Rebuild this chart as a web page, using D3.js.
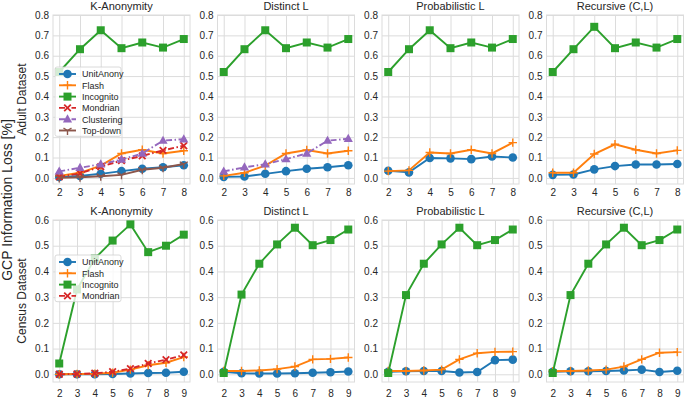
<!DOCTYPE html>
<html>
<head>
<meta charset="utf-8">
<script src="https://cdn.jsdelivr.net/npm/d3@7"></script>
<style>
  body { margin: 0; background: #fff; }
  text { font-family: "Liberation Sans", Arial, sans-serif; fill: #262626; }
</style>
</head>
<body>
<svg id="chart" width="685" height="399"></svg>
<script>
// ---- data ----
const adultK = [2, 3, 4, 5, 6, 7, 8];
const censusK = [2, 3, 4, 5, 6, 7, 8, 9];
const panelTitles = ["K-Anonymity", "Distinct L", "Probabilistic L", "Recursive (C,L)"];
const adultTicks = [0, 0.1, 0.2, 0.3, 0.4, 0.5, 0.6, 0.7, 0.8];
const censusTicks = [0, 0.1, 0.2, 0.3, 0.4, 0.5, 0.6];

// Adult dataset
const adultKAnonUnit   = [0.005, 0.010, 0.020, 0.033, 0.045, 0.052, 0.062];
const adultKAnonFlash  = [0.010, 0.025, 0.060, 0.120, 0.138, 0.120, 0.133];
const adultKAnonIncog  = [0.520, 0.632, 0.725, 0.637, 0.665, 0.640, 0.682];
const adultKAnonMondr  = [0.005, 0.022, 0.055, 0.085, 0.108, 0.135, 0.158];
const adultKAnonClust  = [0.032, 0.050, 0.067, 0.090, 0.120, 0.183, 0.190];
const adultKAnonTopDn  = [0.000, 0.003, 0.008, 0.015, 0.040, 0.050, 0.068];

const adultDistUnit    = [0.005, 0.007, 0.020, 0.033, 0.045, 0.052, 0.062];
const adultDistFlash   = [0.010, 0.025, 0.060, 0.120, 0.137, 0.120, 0.133];
const adultDistIncog   = [0.520, 0.632, 0.725, 0.637, 0.665, 0.640, 0.682];
const adultDistClust   = [0.032, 0.052, 0.067, 0.092, 0.120, 0.183, 0.192];

const adultProbUnit    = [0.035, 0.027, 0.098, 0.096, 0.092, 0.105, 0.100];
const adultProbFlash   = [0.033, 0.037, 0.125, 0.120, 0.138, 0.120, 0.173];
const adultProbIncog   = [0.520, 0.632, 0.725, 0.637, 0.665, 0.640, 0.682];

const adultRecUnit     = [0.015, 0.017, 0.042, 0.058, 0.066, 0.066, 0.068];
const adultRecFlash    = [0.025, 0.025, 0.117, 0.165, 0.138, 0.120, 0.135];
const adultRecIncog    = [0.520, 0.632, 0.742, 0.637, 0.665, 0.640, 0.682];

// Census dataset
const censusKAnonUnit  = [0.000, 0.000, 0.000, 0.001, 0.003, 0.005, 0.006, 0.010];
const censusKAnonFlash = [0.000, 0.001, 0.002, 0.006, 0.018, 0.035, 0.045, 0.067];
const censusKAnonIncog = [0.042, 0.330, 0.450, 0.520, 0.583, 0.475, 0.500, 0.543];
const censusKAnonMondr = [0.000, 0.001, 0.004, 0.010, 0.022, 0.042, 0.057, 0.075];

const censusDistUnit   = [0.010, 0.004, 0.003, 0.003, 0.004, 0.006, 0.008, 0.011];
const censusDistFlash  = [0.013, 0.013, 0.015, 0.020, 0.030, 0.058, 0.060, 0.065];
const censusDistIncog  = [0.005, 0.310, 0.430, 0.505, 0.570, 0.502, 0.522, 0.563];

const censusProbUnit   = [0.010, 0.012, 0.013, 0.013, 0.007, 0.009, 0.055, 0.057];
const censusProbFlash  = [0.013, 0.013, 0.015, 0.018, 0.058, 0.082, 0.087, 0.088];
const censusProbIncog  = [0.005, 0.308, 0.430, 0.505, 0.570, 0.502, 0.522, 0.563];

const censusRecUnit    = [0.010, 0.012, 0.012, 0.013, 0.015, 0.018, 0.009, 0.014];
const censusRecFlash   = [0.012, 0.013, 0.015, 0.018, 0.030, 0.058, 0.084, 0.086];
const censusRecIncog   = [0.005, 0.308, 0.430, 0.505, 0.570, 0.502, 0.522, 0.563];

// ---- styles per algorithm ----
const styles = {
  "UnitAnony":  { color: "#1f77b4", marker: "circle",  dash: null },
  "Flash":      { color: "#ff7f0e", marker: "plus",    dash: null },
  "Incognito":  { color: "#2ca02c", marker: "square",  dash: null },
  "Mondrian":   { color: "#d62728", marker: "x",       dash: "6,2.5,1.5,2.5" },
  "Clustering": { color: "#9467bd", marker: "triangle", dash: "6,2.5,1.5,2.5" },
  "Top-down":   { color: "#8c564b", marker: "tridown", dash: null }
};

const rows = [
  {
    label: "Adult Dataset", xs: adultK, ticks: adultTicks, top: 15, yDomain: [-0.03, 0.8], xDomain: [1.7, 8.3],
    panels: [
      [["UnitAnony", adultKAnonUnit], ["Flash", adultKAnonFlash], ["Incognito", adultKAnonIncog],
       ["Mondrian", adultKAnonMondr], ["Clustering", adultKAnonClust], ["Top-down", adultKAnonTopDn]],
      [["UnitAnony", adultDistUnit], ["Flash", adultDistFlash], ["Incognito", adultDistIncog], ["Clustering", adultDistClust]],
      [["UnitAnony", adultProbUnit], ["Flash", adultProbFlash], ["Incognito", adultProbIncog]],
      [["UnitAnony", adultRecUnit], ["Flash", adultRecFlash], ["Incognito", adultRecIncog]]
    ]
  },
  {
    label: "Census Dataset", xs: censusK, ticks: censusTicks, top: 220, yDomain: [-0.03, 0.6], xDomain: [1.65, 9.35],
    panels: [
      [["UnitAnony", censusKAnonUnit], ["Flash", censusKAnonFlash], ["Incognito", censusKAnonIncog], ["Mondrian", censusKAnonMondr]],
      [["UnitAnony", censusDistUnit], ["Flash", censusDistFlash], ["Incognito", censusDistIncog]],
      [["UnitAnony", censusProbUnit], ["Flash", censusProbFlash], ["Incognito", censusProbIncog]],
      [["UnitAnony", censusRecUnit], ["Flash", censusRecFlash], ["Incognito", censusRecIncog]]
    ]
  }
];

var svg = d3.select("#chart");
var panelW = 137;
var gridColor = "#dcdcdc";

// draw one marker at (0,0) into g
function drawMarker(g, kind, color) {
  if (kind === "circle") {
    g.append("circle").attr("r", 4.3).attr("fill", color);
  } else if (kind === "square") {
    g.append("rect").attr("x", -4).attr("y", -4).attr("width", 8).attr("height", 8).attr("fill", color);
  } else if (kind === "triangle") {
    g.append("path").attr("d", "M0,-5L4.6,3.2L-4.6,3.2Z").attr("fill", color);
  } else if (kind === "plus") {
    g.append("path").attr("d", "M-4.2,0H4.2M0,-4.2V4.2").attr("stroke", color).attr("stroke-width", 1.4);
  } else if (kind === "x") {
    g.append("path").attr("d", "M-3.3,-3.3L3.3,3.3M-3.3,3.3L3.3,-3.3").attr("stroke", color).attr("stroke-width", 1.8);
  } else if (kind === "tridown") {
    g.append("path").attr("d", "M0,0V4.5M0,0L-4,-2.3M0,0L4,-2.3").attr("stroke", color).attr("stroke-width", 1.4);
  }
}

rows.forEach(function(row, ri) {
  var h = ri === 0 ? 169 : 162;

  row.panels.forEach(function(series, pi) {
    var left = 53 + pi * 164.5;
    var g = svg.append("g").attr("transform", `translate(${left},${row.top})`);

    var x = d3.scaleLinear().domain(row.xDomain).range([0, panelW]);
    var y = d3.scaleLinear().domain(row.yDomain).range([h, 0]);

    // grid
    g.append("g")
      .call(d3.axisLeft(y).tickValues(row.ticks).tickSize(-panelW).tickFormat(""))
      .call(a => a.select(".domain").remove())
      .selectAll("line").attr("stroke", gridColor).attr("stroke-width", 1);
    g.append("g")
      .attr("transform", `translate(0,${h})`)
      .call(d3.axisBottom(x).tickValues(row.xs).tickSize(-h).tickFormat(""))
      .call(a => a.select(".domain").remove())
      .selectAll("line").attr("stroke", gridColor).attr("stroke-width", 1);

    // frame
    g.append("rect").attr("width", panelW).attr("height", h)
      .attr("fill", "none").attr("stroke", gridColor).attr("stroke-width", 1);

    // tick labels
    var yAx = g.append("g")
      .call(d3.axisLeft(y).tickValues(row.ticks).tickSize(0).tickPadding(4).tickFormat(d3.format(".1f")));
    yAx.select(".domain").remove();
    yAx.selectAll("text").style("font-size", "10px").attr("fill", "#333");

    var xAx = g.append("g").attr("transform", `translate(0,${h})`)
      .call(d3.axisBottom(x).tickValues(row.xs).tickSize(0).tickPadding(ri === 0 ? 5 : 8).tickFormat(d3.format("d")));
    xAx.select(".domain").remove();
    xAx.selectAll("text").style("font-size", "10px").attr("fill", "#333");

    // title
    g.append("text")
      .attr("x", panelW / 2)
      .attr("y", -5)
      .attr("text-anchor", "middle")
      .style("font-size", "11px")
      .attr("fill", "#333")
      .text(panelTitles[pi]);

    // lines + markers
    var line = d3.line().x(d => x(d[0])).y(d => y(d[1]));
    series.forEach(function(s) {
      var st = styles[s[0]];
      var pts = row.xs.map((k, i) => [k, s[1][i]]);
      g.append("path")
        .datum(pts)
        .attr("d", line)
        .attr("fill", "none")
        .attr("stroke", st.color)
        .attr("stroke-width", 1.9)
        .attr("stroke-dasharray", st.dash);
      pts.forEach(function(p) {
        var m = g.append("g").attr("transform", `translate(${x(p[0])},${y(p[1])})`);
        drawMarker(m, st.marker, st.color);
      });
    });

    // legend in first panel
    if (pi === 0) {
      var lg = g.append("g").attr("transform", `translate(2,${ri === 0 ? 52 : 35})`);
      var n = series.length;
      lg.append("rect")
        .attr("width", 66).attr("height", n * 11.3 + 1.5)
        .attr("rx", 2)
        .attr("fill", "#fff").attr("fill-opacity", 0.8)
        .attr("stroke", "#d0d0d0").attr("stroke-width", 0.8);
      series.forEach(function(s, i) {
        var st = styles[s[0]];
        var cy = 7 + i * 11.3;
        lg.append("line")
          .attr("x1", 4).attr("x2", 21).attr("y1", cy).attr("y2", cy)
          .attr("stroke", st.color).attr("stroke-width", 1.9)
          .attr("stroke-dasharray", st.dash);
        var m = lg.append("g").attr("transform", `translate(12.5,${cy})`);
        drawMarker(m, st.marker, st.color);
        lg.append("text")
          .attr("x", 27).attr("y", cy + 3.3)
          .style("font-size", "9px")
          .attr("fill", "#333")
          .text(s[0]);
      });
    }
  });

  // row label
  svg.append("text")
    .attr("transform", `translate(26,${row.top + h / 2}) rotate(-90)`)
    .attr("text-anchor", "middle")
    .style("font-size", "12px")
    .attr("fill", "#333")
    .text(row.label);
});

// overall y label
svg.append("text")
  .attr("transform", "translate(12,200) rotate(-90)")
  .attr("text-anchor", "middle")
  .style("font-size", "14px")
  .attr("fill", "#333")
  .text("GCP Information Loss [%]");
</script>
</body>
</html>
